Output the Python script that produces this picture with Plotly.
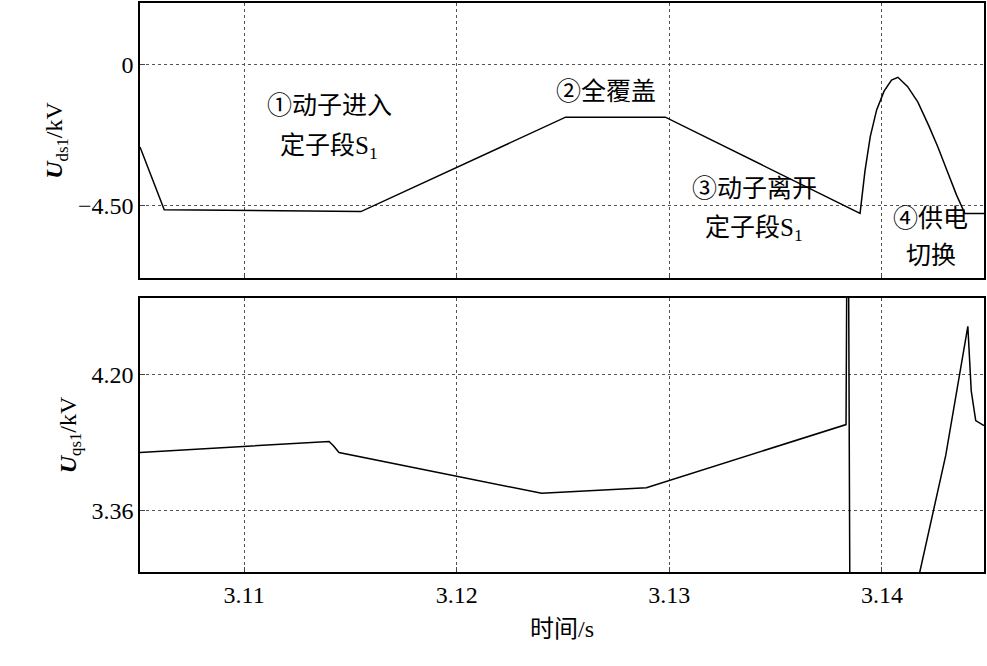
import plotly.graph_objects as go

ud_t = [3.1051, 3.10624, 3.11549, 3.12512, 3.12981, 3.13897, 3.13920, 3.13945, 3.13975, 3.14010, 3.14045, 3.14075, 3.14120, 3.14169, 3.14220, 3.14263, 3.14310, 3.14350, 3.14390, 3.1448]
ud_v = [-2.63, -4.63, -4.69, -1.68, -1.68, -4.75, -3.40, -2.30, -1.45, -0.85, -0.50, -0.41, -0.70, -1.20, -1.95, -2.63, -3.45, -4.15, -4.75, -4.75]

uq_t = [3.1051, 3.11399, 3.11420, 3.11446, 3.12399, 3.12892, 3.13831, 3.13836, 3.13842, 3.13850, 3.14178, 3.14300, 3.14404, 3.14420, 3.14441, 3.1448]
uq_v = [3.718, 3.786, 3.760, 3.718, 3.465, 3.500, 3.891, 5.2, 5.2, 2.5, 2.977, 3.70, 4.50, 4.10, 3.916, 3.885]

fig = go.Figure()
fig.add_trace(go.Scatter(x=ud_t, y=ud_v, mode="lines", line=dict(color="black", width=1.5), xaxis="x", yaxis="y"))
fig.add_trace(go.Scatter(x=uq_t, y=uq_v, mode="lines", line=dict(color="black", width=1.5), xaxis="x2", yaxis="y2"))

serif = "Liberation Serif, Noto Sans CJK SC"
tf = dict(family=serif, size=24, color="black")
ax = dict(range=[3.1051, 3.1448], tickvals=[3.11, 3.12, 3.13, 3.14], showgrid=True,
          gridcolor="#555", griddash="dot", gridwidth=1, showline=True, linecolor="black",
          linewidth=1.5, mirror=True, ticks="inside", ticklen=5, tickfont=tf, zeroline=False)
ay = dict(showgrid=True, gridcolor="#555", griddash="dot", gridwidth=1, showline=True,
          linecolor="black", linewidth=1.5, mirror=True, ticks="inside", ticklen=5,
          tickfont=tf, zeroline=False)

fig.update_layout(
    width=987, height=666, margin=dict(l=140, r=2, t=1, b=94),
    paper_bgcolor="white", plot_bgcolor="white", showlegend=False,
    xaxis=dict(ax, domain=[0, 1], anchor="y", showticklabels=False),
    yaxis=dict(ay, domain=[0.5166, 1], range=[-6.81, 1.96], tickvals=[0, -4.5], ticktext=["0", "−4.50"],
               title=dict(text="<b><i>U</i></b><sub>ds1</sub>/kV", font=tf, standoff=8)),
    xaxis2=dict(ax, domain=[0, 1], anchor="y2",
                title=dict(text="时间/s", font=tf, standoff=14)),
    yaxis2=dict(ay, domain=[0, 0.4816], range=[2.977, 4.676], tickvals=[4.2, 3.36], ticktext=["4.20", "3.36"],
                title=dict(text="<b><i>U</i></b><sub>qs1</sub>/kV", font=tf, standoff=8)),
)

af = dict(family=serif, size=25, color="black")
notes = [
    (3.1140, -1.3, "①动子进入"), (3.1140, -2.65, "定子段S<sub>1</sub>"),
    (3.1270, -0.85, "②全覆盖"),
    (3.1340, -3.95, "③动子离开"), (3.1340, -5.25, "定子段S<sub>1</sub>"),
    (3.1423, -4.9, "④供电"), (3.1423, -6.1, "切换"),
]
for x, y, t in notes:
    fig.add_annotation(x=x, y=y, xref="x", yref="y", text=t, showarrow=False, font=af)

fig.write_html("out.html", config={"displayModeBar": False},
               post_script="document.body.style.margin='0';document.body.style.overflow='hidden';")
